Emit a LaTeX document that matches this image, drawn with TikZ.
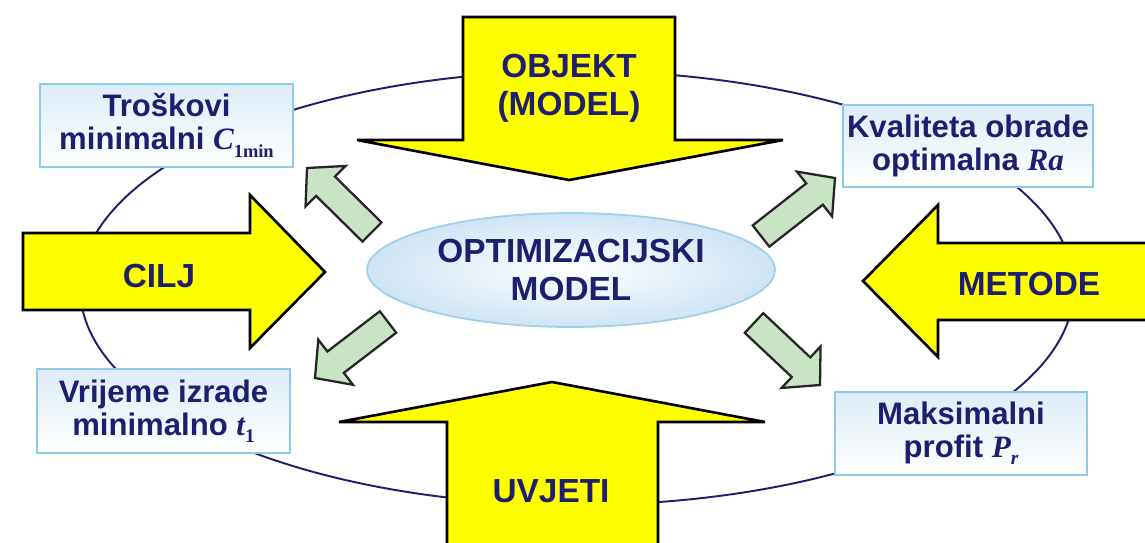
\documentclass[tikz,border=0pt]{standalone}
\usepackage{fontspec}
\setmainfont{Liberation Sans}
\newfontfamily\tms{Liberation Serif}
\usetikzlibrary{calc,shapes.geometric}
\definecolor{navy}{HTML}{1E1E6E}
\definecolor{ylw}{HTML}{FFFF00}
\definecolor{grn}{HTML}{C8E4C4}
\definecolor{boxline}{HTML}{8CCBEA}
\definecolor{boxfill}{HTML}{DDECF7}
\definecolor{cline}{HTML}{9FD0EA}
\definecolor{cfill}{HTML}{CFE4F4}
\newcommand\greenarrow[2]{%
  \coordinate (gh) at ($(#2)!0.52cm!(#1)$);
  \draw[garrowsty] ($(#1)!0.27cm!90:(#2)$) -- ($(gh)!0.27cm!90:(#2)$) -- ($(gh)!0.57cm!90:(#2)$) -- (#2) -- ($(gh)!0.57cm!-90:(#2)$) -- ($(gh)!0.27cm!-90:(#2)$) -- ($(#1)!0.27cm!-90:(#2)$) -- cycle;}
\begin{document}
\begin{tikzpicture}[x=0.02cm,y=-0.02cm,
  yarrow/.style={fill=ylw,draw=black,line width=1.5pt,line join=miter},
  garrowsty/.style={fill=grn,draw=black!85,line width=1.3pt,line join=miter},
  bigtxt/.style={text=navy,font=\fontsize{19}{21.5}\selectfont\bfseries,align=center},
  boxsty/.style={draw=boxline,line width=1.2pt,top color=boxfill,bottom color=white,text=navy,font=\fontsize{17.7}{18.7}\selectfont\bfseries,align=center,inner sep=0pt},
  ]
\useasboundingbox (0,0) rectangle (1145,542);
\clip (0,0) rectangle (1145,542);
% big ring
\draw[navy,line width=1.1pt] (577,288) ellipse [x radius=9.94cm,y radius=4.34cm];
% result boxes
\node[boxsty,minimum width=5.06cm,minimum height=1.66cm] (b1) at (166.5,125.5)
  {Troškovi\\minimalni {\tms\bfseries\itshape C}\raisebox{-0.45ex}{\fontsize{10.5}{10.5}\selectfont\tms\bfseries 1min}};
\node[boxsty,minimum width=5.0cm,minimum height=1.64cm] (b2) at (968,146)
  {Kvaliteta obrade\\optimalna {\tms\bfseries\itshape Ra}};
\node[boxsty,minimum width=5.06cm,minimum height=1.68cm] (b3) at (163.5,411)
  {Vrijeme izrade\\minimalno {\tms\bfseries\itshape t}\raisebox{-0.45ex}{\fontsize{11}{11}\selectfont\tms\bfseries 1}};
\node[boxsty,minimum width=5.04cm,minimum height=1.66cm] (b4) at (961,433.5)
  {Maksimalni\\profit {\tms\bfseries\itshape P}\raisebox{-0.45ex}{\fontsize{11}{11}\selectfont\tms\bfseries\itshape r}};
% yellow arrows
\draw[yarrow] (463,17) -- (675,17) -- (675,140) -- (783,140) -- (569,180) -- (357,140) -- (463,140) -- cycle;
\draw[yarrow] (447,570) -- (447,422) -- (339,422) -- (552,382) -- (765,422) -- (658,422) -- (658,570) -- cycle;
\draw[yarrow] (23,233) -- (250,233) -- (250,195) -- (325,272) -- (250,348) -- (250,310) -- (23,310) -- cycle;
\draw[yarrow] (1170,243) -- (938,243) -- (938,205) -- (863,281) -- (938,357) -- (938,320) -- (1170,320) -- cycle;
\node[bigtxt] (objekt) at (569,88) {OBJEKT\\(MODEL)};
\node[bigtxt] (uvjeti) at (551,491) {UVJETI};
\node[bigtxt] (cilj) at (159,276) {CILJ};
\node[bigtxt] (metode) at (1029,284) {METODE};
% central model
\node[ellipse,draw=cline,line width=1pt,inner color=white,outer color=cfill,
  minimum width=8.16cm,minimum height=2.28cm,inner sep=0pt,bigtxt] (om) at (571,270)
  {OPTIMIZACIJSKI\\MODEL};
% green arrows
\coordinate (g1a) at (372,232); \coordinate (g1b) at (307,168);
\coordinate (g2a) at (761,236); \coordinate (g2b) at (835,178);
\coordinate (g3a) at (388,322); \coordinate (g3b) at (315,378);
\coordinate (g4a) at (754,323); \coordinate (g4b) at (820,385);
\greenarrow{g1a}{g1b}
\greenarrow{g2a}{g2b}
\greenarrow{g3a}{g3b}
\greenarrow{g4a}{g4b}
\end{tikzpicture}
\end{document}
